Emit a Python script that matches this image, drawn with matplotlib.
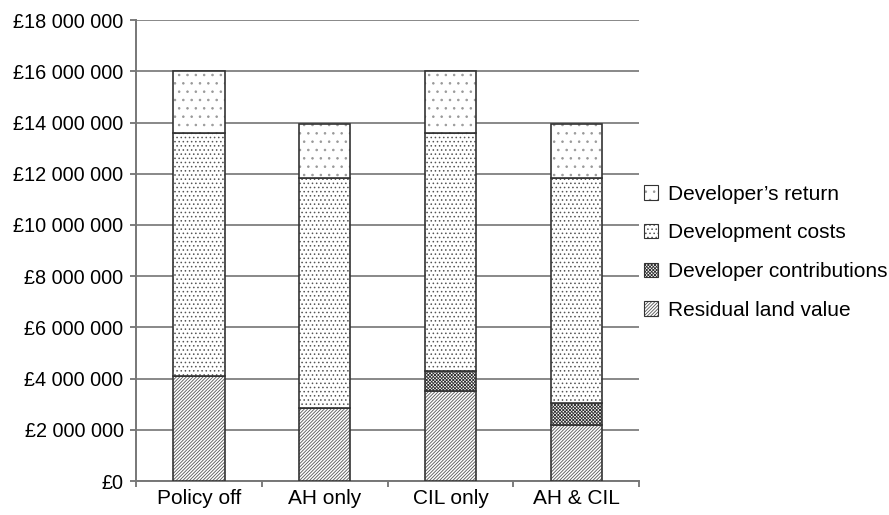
import matplotlib.pyplot as plt
import matplotlib as mpl
from matplotlib.ticker import FuncFormatter, FixedLocator
import numpy as np

plt.rcParams['font.family'] = ['Liberation Sans', 'DejaVu Sans']
plt.rcParams['hatch.linewidth'] = 0.6

# scenarios and cost breakdown (GBP)
scenarios = ["Policy off", "AH only", "CIL only", "AH & CIL"]
residual_land_value = [4100000, 2850000, 3500000, 2200000]
developer_contributions = [0, 0, 800000, 850000]
development_costs = [9500000, 9000000, 9300000, 8800000]
developers_return = [2400000, 2100000, 2400000, 2100000]

series = [
    ("Residual land value", residual_land_value, "/" * 10, "#555555"),
    ("Developer contributions", developer_contributions, "x" * 10, "#333333"),
    ("Development costs", development_costs, "....", "#555555"),
    ("Developer\u2019s return", developers_return, "..", "#999999"),
]

fig = plt.figure(figsize=(8.89, 5.15), dpi=100)
ax = fig.add_axes([0.153, 0.066, 0.566, 0.895])

x = np.arange(len(scenarios))
bottom = np.zeros(len(scenarios))
handles = []
for name, vals, hatch, hcol in series:
    vals = np.array(vals, dtype=float)
    bars = ax.bar(x, vals, width=0.41, bottom=bottom, color="white",
                  edgecolor="#333333", linewidth=1.2, hatch=hatch, label=name,
                  zorder=3)
    for b in bars:
        b._hatch_color = mpl.colors.to_rgba(hcol)
    handles.append(bars)
    bottom += vals

ax.set_xlim(-0.5, len(scenarios) - 0.5)
ax.set_ylim(0, 18000000)
ax.yaxis.set_major_locator(FixedLocator(np.arange(0, 18000001, 2000000)))
ax.yaxis.set_major_formatter(FuncFormatter(
    lambda v, p: "\u00a3" + f"{int(v):,}".replace(",", " ")))
ax.grid(axis="y", color="#888888", linewidth=1.4, zorder=0)

ax.set_xticks(x)
ax.set_xticklabels(scenarios)
ax.set_xticks(np.arange(-0.5, len(scenarios)), minor=True)
ax.tick_params(axis="x", which="major", length=0, pad=6, labelsize=15)
ax.tick_params(axis="x", which="minor", length=4, color="#666666", width=1.2)
ax.tick_params(axis="y", length=4, color="#666666", width=1.2, labelsize=14.3,
               pad=5)

for s in ["top", "right"]:
    ax.spines[s].set_visible(False)
for s in ["left", "bottom"]:
    ax.spines[s].set_color("#777777")
    ax.spines[s].set_linewidth(1.4)

leg = fig.legend(handles[::-1], [h.get_label() for h in handles[::-1]],
                 loc="center left", bbox_to_anchor=(0.703, 0.51),
                 frameon=False, fontsize=15, handlelength=0.7,
                 handleheight=0.7, handletextpad=0.45, labelspacing=0.95)
for patch in leg.get_patches():
    patch.set_linewidth(0.8)

fig.savefig("out.png", dpi=100)
